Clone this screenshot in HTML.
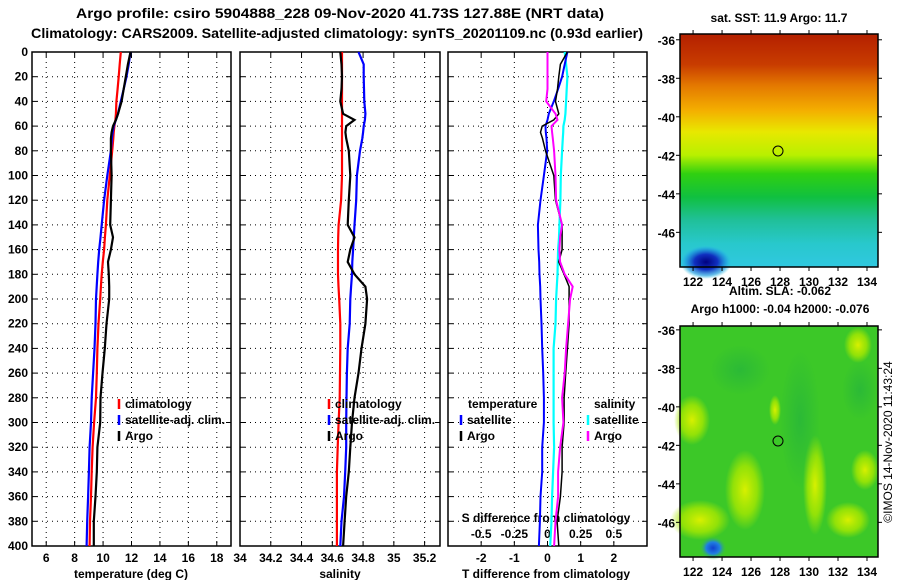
<!DOCTYPE html>
<html><head><meta charset="utf-8"><style>
body{margin:0;background:#fff}
svg{display:block;font-family:"Liberation Sans",sans-serif;font-weight:bold;font-size:12px}
</style></head><body>
<svg id="c" width="900" height="580" viewBox="0 0 900 580">
<defs>
<linearGradient id="sstg" x1="0" y1="0" x2="0" y2="1">
<stop offset="0" stop-color="#b42000"/><stop offset="0.13" stop-color="#c83c00"/>
<stop offset="0.22" stop-color="#e47800"/><stop offset="0.33" stop-color="#f4b000"/>
<stop offset="0.42" stop-color="#e8e800"/><stop offset="0.52" stop-color="#b8f000"/>
<stop offset="0.6" stop-color="#30d010"/><stop offset="0.7" stop-color="#10c040"/>
<stop offset="0.8" stop-color="#20c09a"/><stop offset="0.9" stop-color="#28c8cc"/>
<stop offset="1" stop-color="#30c8e0"/></linearGradient>
<radialGradient id="blueb"><stop offset="0" stop-color="#000080"/><stop offset="0.45" stop-color="#1030c0"/><stop offset="0.8" stop-color="#20a0e0" stop-opacity="0.7"/><stop offset="1" stop-color="#30c8e0" stop-opacity="0"/></radialGradient>
<radialGradient id="yb"><stop offset="0" stop-color="#d8f000"/><stop offset="0.6" stop-color="#a8e800" stop-opacity="0.8"/><stop offset="1" stop-color="#a8e800" stop-opacity="0"/></radialGradient>
<radialGradient id="gb"><stop offset="0" stop-color="#20b040" stop-opacity="0.6"/><stop offset="1" stop-color="#20b040" stop-opacity="0"/></radialGradient>
<radialGradient id="bb2"><stop offset="0" stop-color="#1040d0"/><stop offset="0.5" stop-color="#2080e0"/><stop offset="1" stop-color="#40d020" stop-opacity="0"/></radialGradient>
</defs>
<text x="340" y="18" text-anchor="middle" font-size="14" textLength="528" lengthAdjust="spacingAndGlyphs">Argo profile: csiro 5904888_228 09-Nov-2020 41.73S 127.88E (NRT data)</text>
<text x="337" y="38" text-anchor="middle" font-size="14" textLength="612" lengthAdjust="spacingAndGlyphs">Climatology: CARS2009. Satellite-adjusted climatology: synTS_20201109.nc (0.93d earlier)</text>

<g>
<rect x="680" y="34" width="198" height="233" fill="url(#sstg)"/>
<ellipse cx="706" cy="262" rx="26" ry="17" fill="url(#blueb)"/>
<rect x="680" y="34" width="198" height="233" fill="none" stroke="#000" stroke-width="1.5"/>
<circle cx="778" cy="151" r="5" fill="none" stroke="#000"/>
</g>
<text x="779" y="22" text-anchor="middle">sat. SST: 11.9 Argo: 11.7</text>
<text x="780" y="295" text-anchor="middle">Altim. SLA: -0.062</text>
<text x="780" y="313" text-anchor="middle">Argo h1000: -0.04 h2000: -0.076</text>
<g>
<rect x="680" y="326" width="198" height="231" fill="#3cc828"/>
<ellipse cx="692" cy="420" rx="18" ry="25" fill="url(#yb)"/>
<ellipse cx="858" cy="345" rx="14" ry="18" fill="url(#yb)"/>
<ellipse cx="848" cy="520" rx="22" ry="18" fill="url(#yb)"/>
<ellipse cx="745" cy="490" rx="20" ry="40" fill="url(#yb)"/>
<ellipse cx="815" cy="485" rx="12" ry="50" fill="url(#yb)"/>
<ellipse cx="700" cy="520" rx="30" ry="20" fill="url(#yb)"/>
<ellipse cx="865" cy="470" rx="14" ry="20" fill="url(#yb)"/>
<ellipse cx="775" cy="410" rx="6" ry="15" fill="url(#yb)"/>
<ellipse cx="800" cy="420" rx="20" ry="70" fill="url(#gb)"/>
<ellipse cx="740" cy="370" rx="30" ry="25" fill="url(#gb)"/>
<ellipse cx="860" cy="390" rx="18" ry="30" fill="url(#gb)"/>
<ellipse cx="713" cy="548" rx="14" ry="12" fill="url(#bb2)"/>
<rect x="680" y="326" width="198" height="231" fill="none" stroke="#000" stroke-width="1.5"/>
<circle cx="778" cy="441" r="5" fill="none" stroke="#000"/>
</g>
<text transform="translate(892,442) rotate(-90)" text-anchor="middle" font-weight="normal" font-size="12">©IMOS 14-Nov-2020 11:43:24</text>
<g id="axes"></g>
</svg>
<script>
const depths=[0,10,20,30,40,50,55,60,65,70,80,100,120,140,150,160,170,180,190,200,220,240,260,280,300,320,340,360,380,400];
const argoT=[11.93,11.75,11.6,11.45,11.3,11.05,10.9,10.7,10.6,10.55,10.55,10.6,10.55,10.5,10.7,10.55,10.35,10.4,10.43,10.43,10.24,10.12,9.96,9.82,9.8,9.6,9.56,9.47,9.35,9.35];
const climT=[11.25,11.17,11.1,11.02,10.94,10.9,10.87,10.8,10.75,10.72,10.64,10.47,10.3,10.2,10.13,10.07,9.98,9.9,9.85,9.8,9.68,9.6,9.56,9.5,9.37,9.26,9.2,9.15,9.08,9.05];
const satT=[11.93,11.8,11.65,11.45,11.25,11.05,10.9,10.75,10.68,10.62,10.55,10.3,10.07,9.9,9.82,9.73,9.66,9.6,9.55,9.5,9.47,9.4,9.3,9.2,9.15,9.05,9.0,8.95,8.88,8.84];
const argoS=[34.652,34.66,34.663,34.66,34.652,34.67,34.744,34.69,34.685,34.69,34.707,34.717,34.707,34.70,34.744,34.717,34.70,34.744,34.815,34.826,34.815,34.79,34.77,34.744,34.728,34.717,34.707,34.69,34.68,34.67];
const climS=[34.663,34.663,34.663,34.663,34.663,34.663,34.663,34.663,34.663,34.663,34.663,34.663,34.657,34.641,34.638,34.637,34.637,34.637,34.64,34.645,34.652,34.652,34.65,34.648,34.641,34.635,34.63,34.63,34.63,34.63];
const satS=[34.77,34.804,34.804,34.806,34.808,34.815,34.812,34.804,34.8,34.795,34.78,34.76,34.755,34.744,34.74,34.735,34.73,34.728,34.722,34.717,34.713,34.70,34.695,34.692,34.69,34.69,34.684,34.676,34.66,34.652];
const argoTd=[0.6,0.39,0.34,0.3,0.24,0.34,0.19,-0.16,-0.21,-0.15,-0.06,0.19,0.24,0.44,0.44,0.44,0.34,0.5,0.65,0.65,0.65,0.6,0.55,0.5,0.5,0.44,0.44,0.39,0.29,0.34];
const satTd=[0.6,0.52,0.44,0.32,0.19,0.04,0.0,-0.06,-0.05,-0.03,-0.01,-0.11,-0.21,-0.29,-0.28,-0.27,-0.25,-0.24,-0.22,-0.21,-0.18,-0.16,-0.13,-0.11,-0.11,-0.16,-0.16,-0.21,-0.23,-0.26];
const argoSd=[0.0,0.0,0.0,0.0,-0.01,0.06,0.075,0.03,0.035,0.04,0.05,0.06,0.065,0.11,0.095,0.09,0.095,0.13,0.19,0.17,0.155,0.14,0.13,0.11,0.12,0.095,0.08,0.08,0.06,0.05];
const satSd=[0.13,0.14,0.15,0.145,0.14,0.135,0.13,0.12,0.118,0.115,0.11,0.1,0.097,0.09,0.087,0.08,0.078,0.075,0.07,0.065,0.06,0.046,0.046,0.046,0.046,0.05,0.042,0.035,0.03,0.02];
const depthTicks=[0,20,40,60,80,100,120,140,160,180,200,220,240,260,280,300,320,340,360,380,400];
const tTicks=[6,8,10,12,14,16,18];
const sTicks=[34,34.2,34.4,34.6,34.8,35,35.2];
const dTicks=[-2,-1,0,1,2];
const sdTicks=[-0.5,-0.25,0,0.25,0.5];

const NS='http://www.w3.org/2000/svg';
const g=document.getElementById('axes');
const Y0=52,Y1=546;
function yS(d){return Y0+(d/400)*(Y1-Y0);}
const panels=[
 {x0:32,x1:231,lo:5,hi:19,name:'temperature'},
 {x0:240,x1:440,lo:34,hi:35.3,name:'salinity'},
 {x0:448,x1:647,lo:-3,hi:3,name:'difference'}];
function xS(p,v){return p.x0+(v-p.lo)/(p.hi-p.lo)*(p.x1-p.x0);}
function sdX(v){return xS(panels[2],v*4);}
function mk(tag,at){const e=document.createElementNS(NS,tag);for(const k in at)e.setAttribute(k,at[k]);g.appendChild(e);return e;}
function txt(x,y,s,anchor){const e=mk('text',{x:x,y:y,'text-anchor':anchor||'start'});e.textContent=s;return e;}

panels.forEach((p,i)=>{
  const fr=mk('rect',{x:p.x0,y:Y0,width:p.x1-p.x0,height:Y1-Y0,fill:'none',stroke:'#000','stroke-width':1.5});
  
  
  depthTicks.forEach(d=>{
    if(d>0&&d<400){const l=mk('line',{x1:p.x0,x2:p.x1,y1:yS(d),y2:yS(d),stroke:'#000','stroke-dasharray':'1 4'});
    
    }
    mk('line',{x1:p.x0,x2:p.x0+5,y1:yS(d),y2:yS(d),stroke:'#000'});
    mk('line',{x1:p.x1-5,x2:p.x1,y1:yS(d),y2:yS(d),stroke:'#000'});
  });
});
depthTicks.forEach(d=>{const t=txt(28,yS(d)+4,String(d),'end');
 
 });

function vgrid(p,ticks,fmt){ticks.forEach(v=>{const x=xS(p,v);
  if(x>p.x0+1&&x<p.x1-1){const l=mk('line',{x1:x,x2:x,y1:Y0,y2:Y1,stroke:'#000','stroke-dasharray':'1 4'});
  
  }
  mk('line',{x1:x,x2:x,y1:Y0,y2:Y0+5,stroke:'#000'});mk('line',{x1:x,x2:x,y1:Y1-5,y2:Y1,stroke:'#000'});
  const t=txt(x,562,fmt(v),'middle');
  
  });}
vgrid(panels[0],tTicks,String);
vgrid(panels[1],sTicks,v=>String(+v.toFixed(1)));
vgrid(panels[2],dTicks,String);
sdTicks.forEach(v=>{const t=txt(sdX(v),538,String(v),'middle');
 
 });
let t;
t=txt(131,578,'temperature (deg C)','middle');
t=txt(340,578,'salinity','middle');
t=txt(546,578,'T difference from climatology','middle');
t=txt(546,522,'S difference from climatology','middle');

function line(p,vals,col,w,name,xf){
  const pts=vals.map((v,i)=>(xf?xf(v):xS(p,v)).toFixed(1)+','+yS(depths[i]).toFixed(1)).join(' ');
  const e=mk('polyline',{points:pts,fill:'none',stroke:col,'stroke-width':w});
  
  
}
line(panels[0],climT,'#f00',2.2,'climatology-temperature-line');
line(panels[0],satT,'#00f',2.2,'satellite-temperature-line');
line(panels[0],argoT,'#000',2.2,'argo-temperature-line');
line(panels[1],climS,'#f00',2.2,'climatology-salinity-line');
line(panels[1],satS,'#00f',2.2,'satellite-salinity-line');
line(panels[1],argoS,'#000',2.2,'argo-salinity-line');
line(panels[2],satSd,'#0ff',2.2,'satellite-s-diff-line',sdX);
line(panels[2],satTd,'#00f',2,'satellite-t-diff-line');
line(panels[2],argoTd,'#000',1.5,'argo-t-diff-line');
line(panels[2],argoSd,'#f0f',2,'argo-s-diff-line',sdX);

function leg(x,y,col,label,name){
  if(col)mk('line',{x1:x,x2:x,y1:y-9,y2:y+1,stroke:col,'stroke-width':2.5});
  const e=txt(x+6,y,label);
  
  }
leg(119,408,'#f00','climatology','legend-climatology');
leg(119,424,'#00f','satellite-adj. clim.','legend-satellite-adj');
leg(119,440,'#000','Argo','legend-argo');
leg(329,408,'#f00','climatology','legend-climatology-s');
leg(329,424,'#00f','satellite-adj. clim.','legend-satellite-adj-s');
leg(329,440,'#000','Argo','legend-argo-s');
leg(462,408,null,'temperature','legend-temperature-header');
leg(461,424,'#00f','satellite','legend-t-satellite');
leg(461,440,'#000','Argo','legend-t-argo');
leg(588,408,null,'salinity','legend-salinity-header');
leg(588,424,'#0ff','satellite','legend-s-satellite');
leg(588,440,'#f0f','Argo','legend-s-argo');

function mapAxes(top,bot,latTop,latBot,lab){
  const lonX=v=>679+(v-121.03)/(134.76-121.03)*199;
  const latY=v=>top+(v-latTop)/(latBot-latTop)*(bot-top);
  [122,124,126,128,130,132,134].forEach(v=>{const x=lonX(v);
    mk('line',{x1:x,x2:x,y1:top-4,y2:top,stroke:'#000'});mk('line',{x1:x,x2:x,y1:bot,y2:bot+4,stroke:'#000'});
    const e=txt(x,lab,String(v),'middle');
    
    });
  [-36,-38,-40,-42,-44,-46].forEach(v=>{const y=latY(v);
    mk('line',{x1:676,x2:680,y1:y,y2:y,stroke:'#000'});mk('line',{x1:878,x2:882,y1:y,y2:y,stroke:'#000'});
    const e=txt(675,y+5,String(v),'end');
    
    });
}
mapAxes(34,267,-35.7,-47.8,286);
mapAxes(326,557,-35.8,-47.8,576);
</script>
</body></html>
